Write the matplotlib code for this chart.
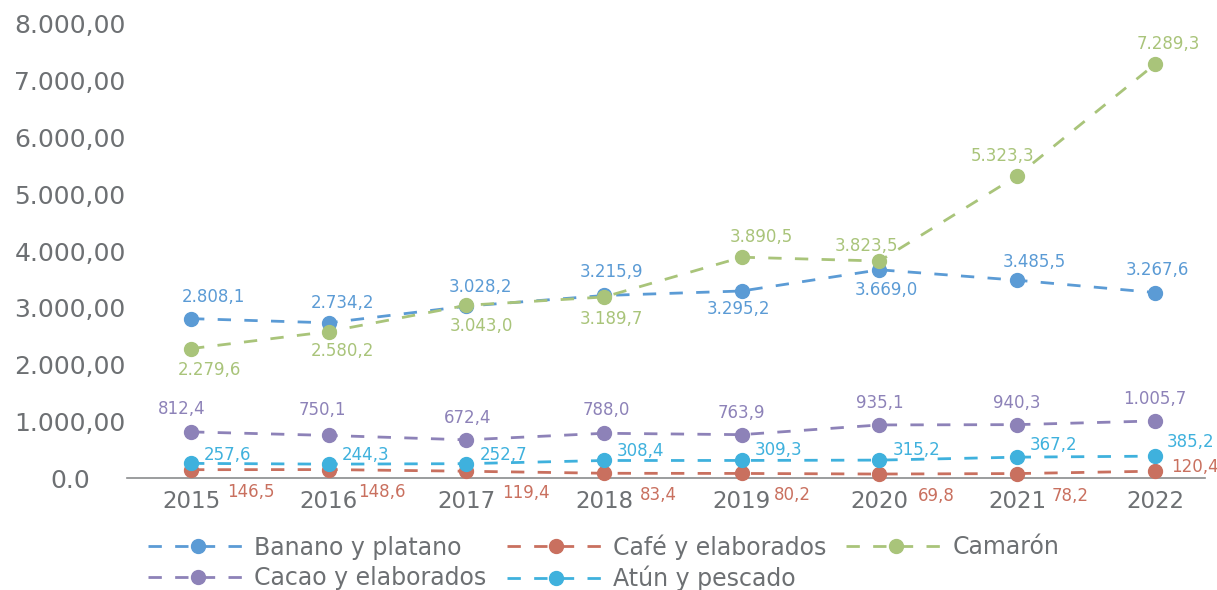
import matplotlib
matplotlib.use('Agg')
import matplotlib.pyplot as plt
from matplotlib.lines import Line2D

# datos (millones USD)
years = ['2015', '2016', '2017', '2018', '2019', '2020', '2021', '2022']
banano = [2808.1, 2734.2, 3028.2, 3215.9, 3295.2, 3669.0, 3485.5, 3267.6]
cafe = [146.5, 148.6, 119.4, 83.4, 80.2, 69.8, 78.2, 120.4]
camaron = [2279.6, 2580.2, 3043.0, 3189.7, 3890.5, 3823.5, 5323.3, 7289.3]
cacao = [812.4, 750.1, 672.4, 788.0, 763.9, 935.1, 940.3, 1005.7]
atun = [257.6, 244.3, 252.7, 308.4, 309.3, 315.2, 367.2, 385.2]
yticks = [0, 1000, 2000, 3000, 4000, 5000, 6000, 7000, 8000]
ytick_labels = ['0.0', '1.000,00', '2.000,00', '3.000,00', '4.000,00',
                '5.000,00', '6.000,00', '7.000,00', '8.000,00']

c_banano = '#5B9BD5'
c_cafe = '#C9705F'
c_camaron = '#A9C47A'
c_cacao = '#8D82B8'
c_atun = '#3FB1DD'
gray = '#6D7073'

plt.rcParams['font.family'] = ['DejaVu Sans']

PX = 0.72  # px -> pt a 100 dpi
DASH = (0, (4.8, 4.8))


def fmt(v):
    s = f'{v:,.1f}'
    return s.replace(',', 'X').replace('.', ',').replace('X', '.')


fig = plt.figure(figsize=(12.17, 5.9), dpi=100)
ax = fig.add_axes([127 / 1217, 1 - 478 / 590, (1205 - 127) / 1217, (478 - 24) / 590])

x = list(range(len(years)))
series = [
    ('Banano y platano', banano, c_banano),
    ('Café y elaborados', cafe, c_cafe),
    ('Camarón', camaron, c_camaron),
    ('Cacao y elaborados', cacao, c_cacao),
    ('Atún y pescado', atun, c_atun),
]
handles = {}
for name, vals, col in series:
    ax.plot(x, vals, color=col, lw=2, ls=DASH, zorder=2, clip_on=False)
    ax.plot(x, vals, 'o', color=col, ms=10, zorder=3, clip_on=False)
    handles[name] = Line2D([], [], color=col, lw=2, ls=DASH, marker='o', ms=10)


def label(vals, col, offsets, ha='center'):
    for i, v in enumerate(vals):
        dx, dy = offsets[i]
        ax.annotate(fmt(v), (i, v), xytext=(dx * PX, -dy * PX), textcoords='offset points',
                    ha=ha, va='center', fontsize=12, color=col, annotation_clip=False)


label(banano, c_banano, [(22, -22), (14, -20), (14, -19), (7, -23), (-3, 18), (7, 20), (17, -18), (2, -23)])
label(camaron, c_camaron, [(18, 21), (14, 19), (15, 21), (7, 22), (20, -20), (-13, -15), (-15, -20), (13, -20)])
label(cacao, c_cacao, [(-9, -23), (-6, -25), (1, -22), (2, -23), (0, -22), (0, -22), (0, -22), (0, -22)])
label(atun, c_atun, [(13, -8), (13, -9), (13, -9), (13, -9), (13, -10), (13, -10), (13, -12), (12, -14)], ha='left')
label(cafe, c_cafe, [(36, 22), (29, 22), (36, 22), (36, 22), (32, 22), (38, 22), (34, 22), (16, -4)], ha='left')

ax.set_xlim(-0.465, 7.364)
ax.set_ylim(0, 8000)
ax.set_xticks(x)
ax.set_xticklabels(years, fontsize=16.5, color=gray)
ax.set_yticks(yticks)
ax.set_yticklabels(ytick_labels, fontsize=18, color=gray)
for t in ax.get_yticklabels():
    t.set_horizontalalignment('center')
ax.tick_params(axis='x', length=0, pad=9)
ax.tick_params(axis='y', length=0, pad=41)
for s in ['top', 'right', 'left']:
    ax.spines[s].set_visible(False)
ax.spines['bottom'].set_color('#8A8C8E')
ax.spines['bottom'].set_linewidth(1.2)

order = ['Banano y platano', 'Cacao y elaborados', 'Café y elaborados', 'Atún y pescado', 'Camarón']
fig.legend([handles[n] for n in order], order, ncol=3, frameon=False,
           loc='upper left', bbox_to_anchor=(148 / 1217, 1 - 534 / 590),
           fontsize=17, labelcolor=gray, handlelength=4.2, handletextpad=0.3,
           columnspacing=0.85, borderpad=0, borderaxespad=0, labelspacing=0.27)

fig.savefig('out.png', dpi=100)
